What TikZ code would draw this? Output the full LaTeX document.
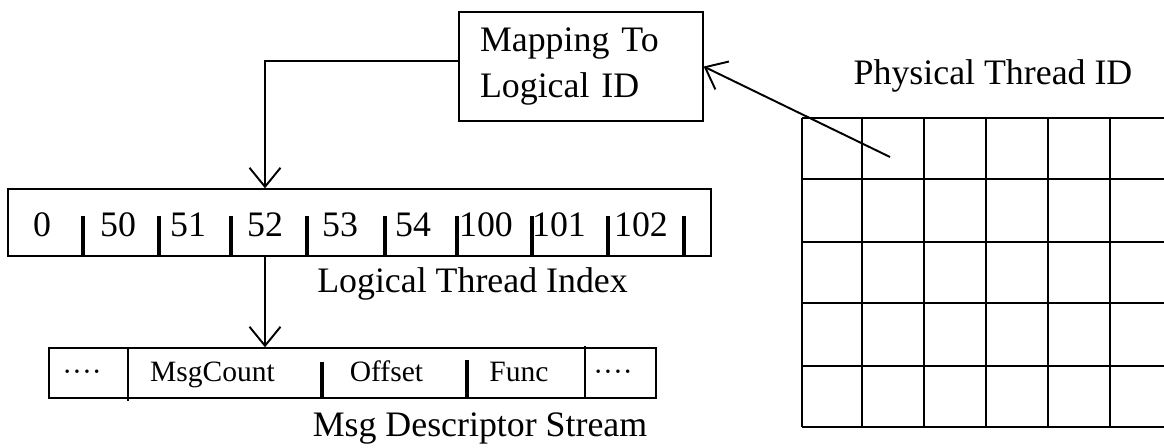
\documentclass[tikz,border=0pt]{standalone}
\usepackage{fontspec}
\setmainfont{Liberation Serif}
\usetikzlibrary{arrows.meta}

\begin{document}
\begin{tikzpicture}[x=0.02cm, y=-0.02cm,
    box/.style={draw, line width=0.8pt, inner sep=0pt},
    lbl/.style={inner sep=0pt, anchor=base, font=\fontsize{20.4}{26.2}\selectfont},
    cell/.style={inner sep=0pt, anchor=base, font=\fontsize{16.8}{20}\selectfont},
    tick/.style={line width=2.2pt},
    link/.style={line width=1.1pt, -{Straight Barb[length=0.38cm, width=0.62cm]}}]
    \useasboundingbox (0,0) rectangle (1164,447);

    % physical thread grid
    \foreach \x in {802,924,986,1048,1110}
        \draw[line width=0.8pt] (\x,118) -- (\x,427);
    \draw[line width=1.7pt] (862,118) -- (862,427);
    \foreach \y in {118,242,366,427}
        \draw[line width=0.8pt] (802,\y) -- (1164,\y);
    \foreach \y in {179,303}
        \draw[line width=1.7pt] (802,\y) -- (1164,\y);
    \node[lbl] (phys) at (993,84) {Physical Thread ID};
    \coordinate (src) at (890,157);

    % mapping box
    \node[box, inner xsep=0.42cm, text width=4.04cm, minimum height=2.18cm,
          align=left, font=\fontsize{20.4}{26.2}\selectfont] (map) at (581,66.5)
        {Mapping To\\Logical ID};

    % logical thread index
    \node[box, minimum width=14.06cm, minimum height=1.34cm] (idx) at (359.5,222.5) {};
    \foreach \x/\v in {42/0,118/50,188/51,265/52,340/53,413/54,486/100,559/101,641/102}
        \node[lbl] (n\v) at (\x,236) {\v};
    \foreach \x in {83,159,231,307,385,457,532,608,684}
        \draw[tick] (\x,216) -- (\x,256);
    \node[lbl] (idxname) at (472.5,292) {Logical Thread Index};

    % msg descriptor stream
    \node[box, minimum width=12.14cm, minimum height=1cm] (msg) at (352.5,373) {};
    \node[cell] (dl) at (82,381) {····};
    \node[cell] (cnt) at (212.5,381) {MsgCount};
    \node[cell] (off) at (386.5,381) {Offset};
    \node[cell] (fn) at (519,381) {Func};
    \node[cell] (dr) at (613,381) {····};
    \draw[line width=1.1pt] (128,348) -- (128,401);
    \draw[line width=1.8pt] (322,362) -- (322,398);
    \draw[line width=1.8pt] (467,360) -- (467,398);
    \draw[line width=1.3pt] (585,346) -- (585,398);
    \node[lbl] (msgname) at (480,436) {Msg Descriptor Stream};

    % connectors
    \draw[link] (src) -- (map.east);
    \draw[link] ([yshift=0.11cm]map.west) -| (n52 |- idx.north);
    \draw[link] (n52 |- idx.south) -- (n52 |- msg.north);
\end{tikzpicture}
\end{document}
